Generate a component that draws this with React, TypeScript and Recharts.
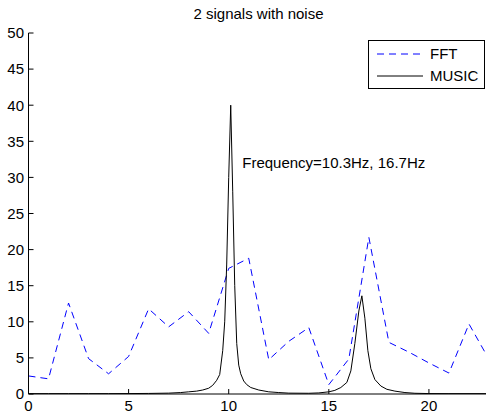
import React from 'react';
import { LineChart, Line, XAxis, YAxis, Legend, ReferenceDot, Customized } from 'recharts';

const FONT = '"Liberation Sans", Arial, Helvetica, sans-serif';

const chartTitle = '2 signals with noise';
const annotationText = 'Frequency=10.3Hz, 16.7Hz';

const xTicks = [0, 5, 10, 15, 20];
const yTicks = [0, 5, 10, 15, 20, 25, 30, 35, 40, 45, 50];

const fftFreq = [0, 1, 2, 3, 4, 5, 6, 7, 8, 9, 10, 11, 12, 13, 14, 15, 16, 17, 18, 19, 20, 21, 22, 23];
const fftValues = [2.5, 2.1, 12.6, 4.9, 2.8, 5.2, 11.8, 9.3, 11.4, 8.4, 17.4, 18.8, 4.75, 7.3, 9.2, 1.3, 4.85, 21.7, 7.15, 5.8, 4.3, 2.9, 9.7, 4.8];

const musicFreq = [0, 1, 2, 3, 4, 5, 6, 7, 7.6, 8, 8.4, 8.7, 9.0, 9.2, 9.4, 9.55, 9.7, 9.8, 9.9, 10.0, 10.1, 10.2, 10.3, 10.4, 10.5, 10.6, 10.75, 10.9, 11.1, 11.5, 12, 12.5, 13, 14, 14.5, 15, 15.3, 15.6, 15.9, 16.1, 16.3, 16.5, 16.65, 16.8, 16.95, 17.1, 17.3, 17.6, 17.9, 18.3, 18.8, 19.3, 20, 21, 23];
const musicValues = [0.05, 0.05, 0.05, 0.05, 0.05, 0.06, 0.08, 0.12, 0.2, 0.3, 0.4, 0.55, 0.8, 1.2, 1.9, 2.7, 6, 10, 18, 30, 40, 28, 15, 7, 4, 2.8, 1.8, 1.3, 0.9, 0.55, 0.3, 0.2, 0.12, 0.1, 0.15, 0.3, 0.5, 0.9, 1.6, 3.2, 7, 11.5, 13.6, 10.5, 6, 3.5, 2, 1.1, 0.65, 0.4, 0.2, 0.1, 0.06, 0.05, 0.05];

const fftData = fftFreq.map((x, i) => ({ x, fft: fftValues[i] }));
const musicData = musicFreq.map((x, i) => ({ x, music: musicValues[i] }));

const BottomTick = (props: any) => {
  const { x, y, payload } = props;
  return (
    <g>
      <line x1={x} y1={y} x2={x} y2={y - 5} stroke="#000" strokeWidth={1} />
      <text x={x} y={y + 16.5} textAnchor="middle" fontSize={15} fill="#000" fontFamily={FONT}>
        {payload.value}
      </text>
    </g>
  );
};

const TopTick = (props: any) => {
  const { x, y } = props;
  return <line x1={x} y1={y} x2={x} y2={y + 5} stroke="#000" strokeWidth={1} />;
};

const LeftTick = (props: any) => {
  const { x, y, payload } = props;
  return (
    <g>
      <line x1={x} y1={y} x2={x + 5} y2={y} stroke="#000" strokeWidth={1} />
      <text x={x - 4.5} y={y + 5.3} textAnchor="end" fontSize={15} fill="#000" fontFamily={FONT}>
        {payload.value}
      </text>
    </g>
  );
};

const LegendBox = (props: any) => {
  const payload = props.payload || [];
  return (
    <div
      style={{
        width: 117,
        height: 49,
        border: '1px solid #000',
        boxSizing: 'border-box',
        background: '#fff',
        position: 'relative',
        fontFamily: FONT,
        fontSize: 15,
        color: '#000',
      }}
    >
      {payload.map((e: any, i: number) => {
        const dash = e.payload && e.payload.strokeDasharray ? e.payload.strokeDasharray : undefined;
        return (
          <div
            key={i}
            style={{ position: 'absolute', left: 8, top: 3 + i * 22.4, height: 20, display: 'flex', alignItems: 'center', whiteSpace: 'nowrap' }}
          >
            <svg width={46} height={20} style={{ display: 'block' }}>
              <line x1={0} y1={10} x2={46} y2={10} stroke={e.color} strokeWidth={1} strokeDasharray={dash} />
            </svg>
            <span style={{ marginLeft: 7, lineHeight: '20px' }}>{e.value}</span>
          </div>
        );
      })}
    </div>
  );
};

const Title = () => (
  <text x={258.5} y={18.5} textAnchor="middle" fontSize={15} fill="#000" fontFamily={FONT}>
    {chartTitle}
  </text>
);

export default function App() {
  return (
    <div style={{ position: 'absolute', left: 0, top: 0, width: 486, height: 414, overflow: 'hidden', background: '#fff' }}>
      <LineChart width={489} height={414} margin={{ top: 33, right: 0, bottom: 0, left: 0 }}>
        <Customized component={Title} />
        <XAxis
          dataKey="x"
          type="number"
          domain={[0, 23]}
          ticks={xTicks}
          allowDataOverflow
          height={20}
          tickSize={0}
          tickMargin={0}
          tickLine={false}
          axisLine={{ stroke: '#000' }}
          tick={<BottomTick />}
          interval={0}
        />
        <XAxis
          xAxisId="top"
          orientation="top"
          dataKey="x"
          type="number"
          domain={[0, 23]}
          ticks={xTicks}
          allowDataOverflow
          height={0}
          tickSize={0}
          tickMargin={0}
          tickLine={false}
          axisLine={{ stroke: '#000' }}
          tick={<TopTick />}
          interval={0}
        />
        <YAxis
          type="number"
          domain={[0, 50]}
          ticks={yTicks}
          allowDataOverflow
          width={28.5}
          tickSize={0}
          tickMargin={0}
          tickLine={false}
          axisLine={{ stroke: '#000' }}
          tick={<LeftTick />}
          interval={0}
        />
        <Line
          data={fftData}
          dataKey="fft"
          name="FFT"
          type="linear"
          stroke="#0000ff"
          strokeWidth={1}
          strokeDasharray="7 5"
          dot={false}
          activeDot={false}
          isAnimationActive={false}
        />
        <Line
          data={musicData}
          dataKey="music"
          name="MUSIC"
          type="linear"
          stroke="#000000"
          strokeWidth={1}
          dot={false}
          activeDot={false}
          isAnimationActive={false}
        />
        <ReferenceDot
          x={10.675}
          y={32}
          r={0}
          fill="none"
          stroke="none"
          label={{
            position: 'right',
            offset: 0,
            content: (p: any) => {
              const vb = p.viewBox || { x: 0, y: 0, width: 0, height: 0 };
              return (
                <text
                  x={vb.x + (vb.width || 0)}
                  y={vb.y + (vb.height || 0) / 2 + 5.3}
                  textAnchor="start"
                  fontSize={15}
                  fill="#000"
                  fontFamily={FONT}
                >
                  {annotationText}
                </text>
              );
            },
          }}
        />
        <Legend
          layout="vertical"
          align="center"
          verticalAlign="middle"
          content={<LegendBox />}
          wrapperStyle={{ position: 'absolute', left: 368, top: 40, width: 117, height: 49 }}
        />
      </LineChart>
    </div>
  );
}
